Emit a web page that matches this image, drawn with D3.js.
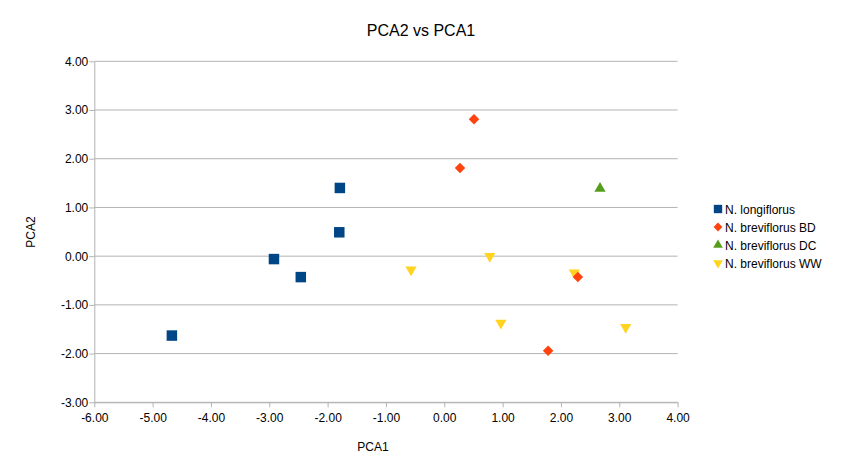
<!DOCTYPE html>
<html>
<head>
<meta charset="utf-8">
<script src="https://cdn.jsdelivr.net/npm/d3@7"></script>
<style>
  body { margin: 0; background: #fff; }
  svg { font-family: "Liberation Sans", Arial, sans-serif; }
</style>
</head>
<body>
<svg id="chart" width="842" height="473"></svg>
<script>
    // Series names, in legend order
    var seriesNames = ['N. longiflorus', 'N. breviflorus BD', 'N. breviflorus DC', 'N. breviflorus WW'];

    // PCA1 / PCA2 values per series
    var longiflorusX = [-4.67, -2.92, -2.46, -1.79, -1.80];
    var longiflorusY = [-1.63, -0.06, -0.43, 1.40, 0.49];

    var bdX = [0.51, 0.27, 2.29, 1.78];
    var bdY = [2.81, 1.81, -0.43, -1.94];

    var dcX = [2.67];
    var dcY = [1.39];

    var wwX = [-0.57, 0.78, 2.23, 0.97, 3.11];
    var wwY = [-0.28, 0.00, -0.34, -1.37, -1.46];

    var xTicks = [-6, -5, -4, -3, -2, -1, 0, 1, 2, 3, 4];
    var yTicks = [-3, -2, -1, 0, 1, 2, 3, 4];

    var colors = ['#004586', '#ff420e', '#579d1c', '#ffd320'];

    var svg = d3.select('#chart');

    var plotLeft = 94.3, plotRight = 677.6, plotTop = 61.3, plotBottom = 402.3;

    var x = d3.scaleLinear().domain([-6, 4]).range([plotLeft, plotRight]);
    var y = d3.scaleLinear().domain([-3, 4]).range([plotBottom, plotTop]);

    // Plain hyphen for negatives, like the original
    var fmt = function(d) { return d.toFixed(2); };

    // Gridlines
    svg.append('g')
        .selectAll('line')
        .data(yTicks)
        .enter().append('line')
        .attr('x1', plotLeft).attr('x2', plotRight)
        .attr('y1', function(d) { return y(d); })
        .attr('y2', function(d) { return y(d); })
        .attr('stroke', '#b3b3b3')
        .attr('stroke-width', 1);

    // Axes
    var xAxis = d3.axisBottom(x).tickValues(xTicks).tickFormat(fmt).tickSize(5).tickSizeOuter(0);
    var yAxis = d3.axisLeft(y).tickValues(yTicks).tickFormat(fmt).tickSize(5).tickSizeOuter(0);

    var gx = svg.append('g').attr('transform', 'translate(0,' + plotBottom + ')').call(xAxis);
    var gy = svg.append('g').attr('transform', 'translate(' + plotLeft + ',0)').call(yAxis);

    [gx, gy].forEach(function(g) {
        g.select('.domain').attr('stroke', '#b3b3b3');
        g.selectAll('.tick line').attr('stroke', '#b3b3b3');
        g.selectAll('.tick text')
            .attr('fill', '#000')
            .style('font-size', '12px')
            .style('font-family', '"Liberation Sans", Arial, sans-serif');
    });
    gx.selectAll('.tick text').attr('dy', '0.95em');
    gy.selectAll('.tick text').attr('x', -6);

    // Titles
    svg.append('text')
        .attr('x', 421).attr('y', 36)
        .attr('text-anchor', 'middle')
        .style('font-size', '16px')
        .text('PCA2 vs PCA1');

    svg.append('text')
        .attr('x', 373).attr('y', 451)
        .attr('text-anchor', 'middle')
        .style('font-size', '12px')
        .text('PCA1');

    svg.append('text')
        .attr('transform', 'translate(35,' + 232 + ') rotate(-90)')
        .attr('text-anchor', 'middle')
        .style('font-size', '12px')
        .text('PCA2');

    // Marker shapes
    var shapes = [
        d3.symbol().type(d3.symbolSquare).size(110),
        d3.symbol().type(d3.symbolDiamond2).size(70),
        d3.symbol().type(d3.symbolTriangle).size(55),
        d3.symbol().type(d3.symbolTriangle).size(55)
    ];
    var rotations = [0, 0, 0, 180];

    var series = [
        { xs: longiflorusX, ys: longiflorusY },
        { xs: bdX, ys: bdY },
        { xs: dcX, ys: dcY },
        { xs: wwX, ys: wwY }
    ];

    // Draw WW before BD so the BD diamond sits on top, like the original
    var drawOrder = [0, 3, 2, 1];
    drawOrder.forEach(function(i) {
        var s = series[i];
        svg.append('g')
            .selectAll('path')
            .data(s.xs.map(function(v, k) { return [v, s.ys[k]]; }))
            .enter().append('path')
            .attr('d', shapes[i])
            .attr('fill', colors[i])
            .attr('transform', function(d) {
                return 'translate(' + x(d[0]) + ',' + y(d[1]) + ') rotate(' + rotations[i] + ')';
            });
    });

    // Legend
    var legendShapes = [
        d3.symbol().type(d3.symbolSquare).size(70),
        d3.symbol().type(d3.symbolDiamond2).size(50),
        d3.symbol().type(d3.symbolTriangle).size(40),
        d3.symbol().type(d3.symbolTriangle).size(40)
    ];
    var legend = svg.append('g').attr('transform', 'translate(718,209)');
    seriesNames.forEach(function(name, i) {
        var row = legend.append('g').attr('transform', 'translate(0,' + (i * 18) + ')');
        row.append('path')
            .attr('d', legendShapes[i])
            .attr('fill', colors[i])
            .attr('transform', 'rotate(' + rotations[i] + ')');
        row.append('text')
            .attr('x', 7).attr('y', 4.5)
            .style('font-size', '12px')
            .text(name);
    });
</script>
</body>
</html>
